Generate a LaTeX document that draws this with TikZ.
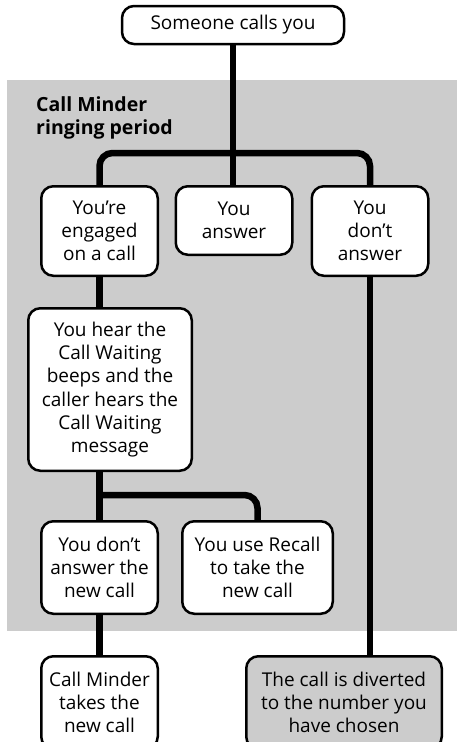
\documentclass[tikz,border=0pt]{standalone}
\usepackage{fontspec}
\setmainfont{Open Sans}
\usetikzlibrary{positioning,calc}
\definecolor{ringgray}{HTML}{CCCCCC}

\begin{document}
\begin{tikzpicture}[x=1pt,y=-1pt,
  box/.style={draw,line width=2.5pt,rounded corners=12pt,fill=white,align=center,
    inner sep=0pt,font=\fontsize{19}{23.3}\selectfont},
  link/.style={line width=6.5pt,rounded corners=13pt}]
\useasboundingbox (0,0) rectangle (460,742);
\fill[ringgray] (7,80) rectangle (457,631);
\node[anchor=north west,align=left,inner sep=0pt,
  font=\bfseries\fontsize{19.5}{23}\selectfont] (zone) at (36,96) {Call Minder\\ringing period};

\node[box,minimum width=222pt,minimum height=38pt] (top) at (233,25) {Someone calls you};
\node[box,minimum width=116.5pt,minimum height=89.5pt] (b1) at (99.5,231) {You’re\\engaged\\on a call};
\node[box,minimum width=116.5pt,minimum height=68.5pt] (b2) at (234,220.5) {You\\answer};
\node[box,minimum width=116.5pt,minimum height=89.5pt] (b3) at (370,231) {You\\don’t\\answer};
\node[box,minimum width=163.5pt,minimum height=162.5pt] (b4) at (110,389.5) {You hear the\\Call Waiting\\beeps and the\\caller hears the\\Call Waiting\\message};
\node[box,minimum width=116.5pt,minimum height=92.5pt] (b5) at (99.5,567.5) {You don’t\\answer the\\new call};
\node[box,minimum width=150.5pt,minimum height=92.5pt] (b6) at (257.5,567.5) {You use Recall\\to take the\\new call};
\node[box,minimum width=116.5pt,minimum height=92.5pt] (b7) at (99.5,702.5) {Call Minder\\takes the\\new call};
\node[box,fill=ringgray,minimum width=195.5pt,minimum height=92.5pt] (b8) at (344,702.5) {The call is diverted\\to the number you\\have chosen};

\coordinate (fork) at (233,153);
\coordinate (split) at (99.5,495);
\draw[link] (top.south) -- (fork);
\draw[link] (b1.north) |- (fork) -| (b3.north);
\draw[link] (fork) -- (fork |- b2.north);
\draw[link] (b1.south) -- (b1.south |- b4.north);
\draw[link] (b5.north |- b4.south) -- (b5.north);
\draw[link] (split) -| (b6.north);
\draw[link] (b5.south) -- (b7.north);
\draw[link] (b3.south) -- (b3.south |- b8.north);
\end{tikzpicture}
\end{document}
